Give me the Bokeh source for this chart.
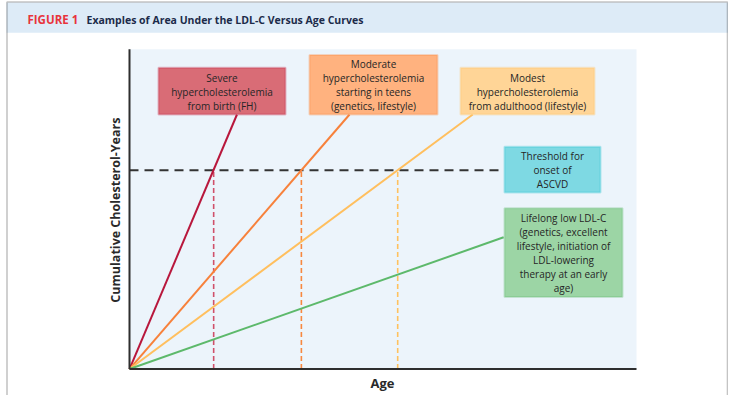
from bokeh.plotting import figure
from bokeh.models import Range1d, BoxAnnotation, Label
from bokeh.embed import file_html
from bokeh.resources import INLINE
import math

# ---------------- data ----------------
profiles = ["Severe hypercholesterolemia from birth (FH)",
            "Moderate hypercholesterolemia starting in teens (genetics, lifestyle)",
            "Modest hypercholesterolemia from adulthood (lifestyle)",
            "Lifelong low LDL-C"]
start_age = [0, 0, 0, 0]
start_value = [0, 0, 0, 0]
end_age = [21.2, 43.4, 67.7, 73.8]
end_value = [79.6, 79.6, 79.6, 41.2]
threshold = 62.2
onset_age = [16.6, 33.9, 52.9]

box_texts = [
    "Severe\nhypercholesterolemia\nfrom birth (FH)",
    "Moderate\nhypercholesterolemia\nstarting in teens\n(genetics, lifestyle)",
    "Modest\nhypercholesterolemia\nfrom adulthood (lifestyle)",
    "Lifelong low LDL-C\n(genetics, excellent\nlifestyle, initiation of\nLDL-lowering\ntherapy at an early\nage)",
]
threshold_text = "Threshold for\nonset of\nASCVD"

# ---------------- styles / layout ----------------
line_colors = ["#B8173C", "#F7813B", "#FFBF5E", "#5DB96B"]
box_fill = ["#D96C76", "#FFB27F", "#FFD597", "#9CD5A5"]
box_line = ["#C3294A", "#F7883F", "#FFC566", "#62BA70"]
S = 0.975  # vertical compression so everything fits the canvas

def Y(y):
    return y * S

# boxes in picture pixels: left, right, top, bottom
box_pos = [(158, 285, 69, 117), (309, 437, 56, 117), (460, 594, 69, 117), (504, 622, 213, 304)]
teal_pos = (504, 600, 150, 197)

W, H = 728, 395
X0, X1, Y0, Y1 = 129, 636, Y(378), Y(50)  # chart frame in picture px

p = figure(width=W, height=H, output_backend="svg", toolbar_location=None,
           x_range=Range1d(0, W), y_range=Range1d(H, 0),
           x_axis_location=None, y_axis_location=None, min_border=0,
           outline_line_color=None, background_fill_color="white",
           border_fill_color="white")
p.grid.visible = False

p.extra_x_ranges = {"age": Range1d((0 - X0) / (X1 - X0) * 100, (W - X0) / (X1 - X0) * 100)}
p.extra_y_ranges = {"val": Range1d((Y0 - H) / (Y0 - Y1) * 100, (Y0 - 0) / (Y0 - Y1) * 100)}

def age_of(px):
    return (px - X0) / (X1 - X0) * 100

# page frame + header band
p.add_layout(BoxAnnotation(left=6, right=W + 10, top=2, bottom=Y(33),
                           fill_color="#DDEBF7", fill_alpha=1, line_color=None, level="underlay"))
p.add_layout(BoxAnnotation(left=6.5, right=W - 1, top=1.5, bottom=430,
                           fill_alpha=0, line_color="#3A3A3A", line_width=1.6, level="underlay"))
# chart background
p.add_layout(BoxAnnotation(left=X0, right=X1, top=Y1, bottom=Y0,
                           fill_color="#ECF4FB", fill_alpha=1, line_color=None, level="underlay"))

kw = dict(x_range_name="age", y_range_name="val")

# vertical dashed onset lines
vcols = ["#D0506A", "#F7883F", "#FFC15E"]
for a, c in zip(onset_age, vcols):
    p.segment(x0=[a], y0=[0], x1=[a], y1=[threshold], line_color=c,
              line_width=1.6, line_dash="5 3", **kw)

# threshold line
p.segment(x0=[0], y0=[threshold], x1=[age_of(teal_pos[0])], y1=[threshold],
          line_color="#333333", line_width=2, line_dash="9 6", **kw)

# profile lines
for i in range(4):
    p.line(x=[start_age[i], end_age[i]], y=[start_value[i], end_value[i]],
           line_color=line_colors[i], line_width=2, **kw)

# axes
p.segment(x0=[0], y0=[0], x1=[0], y1=[100], line_color="#2E2E2E", line_width=2, **kw)
p.segment(x0=[0], y0=[0], x1=[100], y1=[0], line_color="#2E2E2E", line_width=2, **kw)

# boxes with text
FONT = "Open Sans"
LH = 1.0
for (l, r, t, b), f, lc in zip(box_pos, box_fill, box_line):
    p.add_layout(BoxAnnotation(left=l, right=r, top=Y(t), bottom=Y(b), fill_color=f,
                               fill_alpha=1, line_color=lc, line_width=2))
l, r, t, b = teal_pos
p.add_layout(BoxAnnotation(left=l, right=r, top=Y(t), bottom=Y(b), fill_color="#7ED9E3",
                           fill_alpha=1, line_color="#2CC2D2", line_width=2))
for (l, r, t, b), txt in zip(box_pos + [teal_pos], box_texts + [threshold_text]):
    p.add_layout(Label(x=(l + r) / 2, y=Y((t + b) / 2) + 0.5, text=txt, text_align="center",
                       text_baseline="middle", text_font=FONT, text_font_size="10px",
                       text_color="#262626", text_line_height=LH))

# axis titles
p.add_layout(Label(x=382, y=Y(392), text="Age", text_align="center", text_baseline="middle",
                   text_font=FONT, text_font_size="13px", text_font_style="bold",
                   text_color="#2A2A2A"))
p.add_layout(Label(x=115, y=Y(215), text="Cumulative Cholesterol-Years", angle=math.pi / 2,
                   text_align="center", text_baseline="middle", text_font=FONT,
                   text_font_size="12.5px", text_font_style="bold", text_color="#2A2A2A"))

# header title
p.add_layout(Label(x=27, y=19, text="FIGURE 1", text_align="left", text_baseline="middle",
                   text_font=FONT, text_font_size="11.5px", text_font_style="bold",
                   text_color="#E8343C"))
p.add_layout(Label(x=86, y=19, text="Examples of Area Under the LDL-C Versus Age Curves",
                   text_align="left", text_baseline="middle", text_font=FONT,
                   text_font_size="10.5px", text_font_style="bold", text_color="#1C2B4A"))

open("out.html", "w").write(file_html(p, INLINE))
